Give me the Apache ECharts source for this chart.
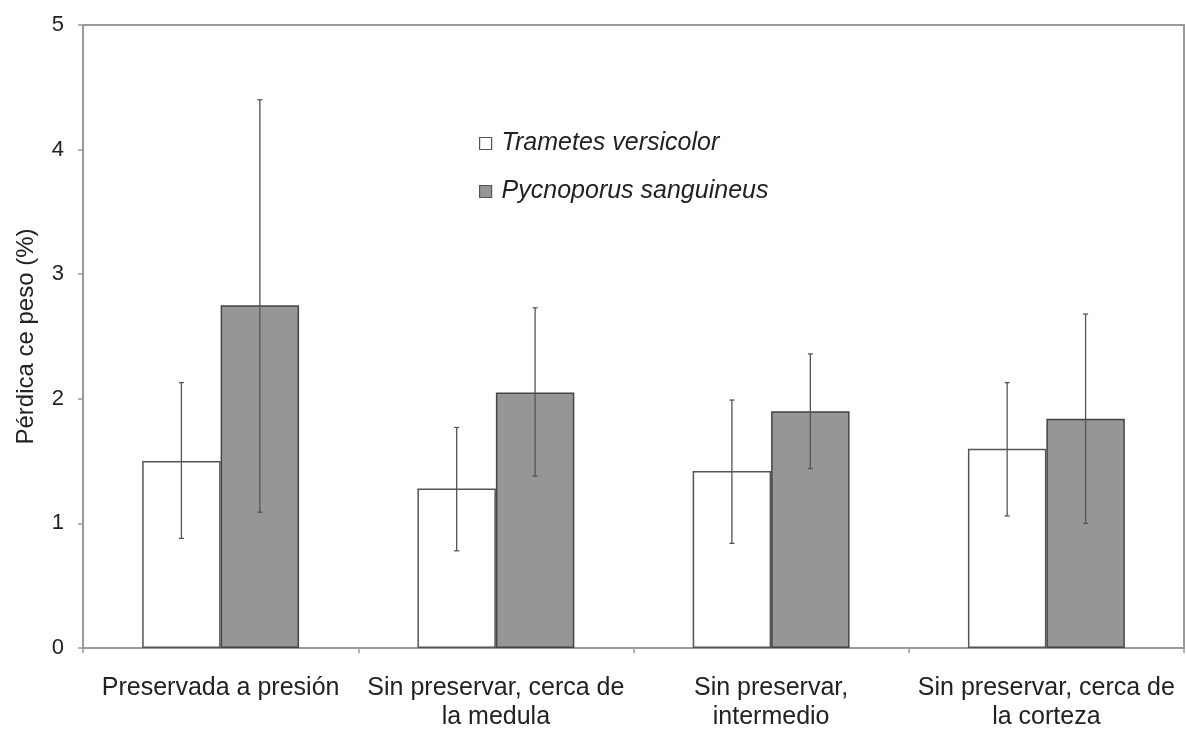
<!DOCTYPE html>
<html>
<head>
<meta charset="utf-8">
<script src="https://cdn.jsdelivr.net/npm/echarts@6/dist/echarts.min.js"></script>
<style>
  html, body { margin: 0; padding: 0; background: #fff; }
  #chart { width: 1186px; height: 734px; }
</style>
</head>
<body>
<div id="chart"></div>
<script>
// Wood treatment categories
const categories = [
  'Preservada a presión',
  'Sin preservar, cerca de\nla medula',
  'Sin preservar,\nintermedio',
  'Sin preservar, cerca de\nla corteza'
];
const seriesNames = ['Trametes versicolor', 'Pycnoporus sanguineus'];

// Mean weight loss (%)
const trametesMean = [1.50, 1.28, 1.42, 1.60];
const pycnoporusMean = [2.75, 2.05, 1.90, 1.84];

// Error bar extents (low, high)
const trametesLow  = [0.88, 0.78, 0.84, 1.06];
const trametesHigh = [2.13, 1.77, 1.99, 2.13];
const pycnoporusLow  = [1.09, 1.38, 1.44, 1.00];
const pycnoporusHigh = [4.40, 2.73, 2.36, 2.68];

const yTicks = [0, 1, 2, 3, 4, 5];

const FONT = 'Liberation Sans, Arial, sans-serif';
const CAT_GAP = 0.43;           // share of category left empty
const BAR_SHARE = (1 - CAT_GAP) / 2;

function errorSeries(low, high, side) {
  const data = low.map((lo, i) => [i, lo, high[i]]);
  return {
    type: 'custom',
    silent: true,
    z: 5,
    data: data,
    encode: { x: 0, y: [1, 2] },
    renderItem: function (params, api) {
      const i = api.value(0);
      const catW = api.size([1, 0])[0];
      const barW = catW * BAR_SHARE;
      const pLo = api.coord([i, api.value(1)]);
      const pHi = api.coord([i, api.value(2)]);
      const x = pLo[0] + side * barW / 2;
      const cap = 2.5;
      const style = { stroke: '#555', lineWidth: 1.3 };
      return {
        type: 'group',
        children: [
          { type: 'line', shape: { x1: x, y1: pLo[1], x2: x, y2: pHi[1] }, style },
          { type: 'line', shape: { x1: x - cap, y1: pLo[1], x2: x + cap, y2: pLo[1] }, style },
          { type: 'line', shape: { x1: x - cap, y1: pHi[1], x2: x + cap, y2: pHi[1] }, style }
        ]
      };
    }
  };
}

const chart = echarts.init(document.getElementById('chart'), null, { renderer: 'canvas' });

chart.setOption({
  animation: false,
  backgroundColor: '#fff',
  textStyle: { fontFamily: FONT, color: '#222' },
  grid: {
    left: 83, right: 2, top: 25, bottom: 86,
    show: true, borderColor: '#9a9a9a', borderWidth: 2, backgroundColor: 'transparent'
  },
  legend: {
    orient: 'vertical',
    left: 474, top: 126,
    itemWidth: 12, itemHeight: 12, itemGap: 23,
    icon: 'rect',
    textStyle: { fontSize: 25, fontStyle: 'italic', color: '#222', fontFamily: FONT, padding: [0, 0, 0, 5] },
    data: [
      { name: seriesNames[0], itemStyle: { color: '#fff', borderColor: '#555', borderWidth: 1.2 } },
      { name: seriesNames[1], itemStyle: { color: '#969696', borderColor: '#555', borderWidth: 1.2 } }
    ]
  },
  xAxis: {
    type: 'category',
    data: categories,
    axisLine: { lineStyle: { color: '#9a9a9a', width: 2 } },
    axisTick: { show: true, length: 5, lineStyle: { color: '#9a9a9a', width: 1.5 } },
    axisLabel: {
      interval: 0, margin: 26, fontSize: 25, lineHeight: 29, color: '#222', fontFamily: FONT
    },
    splitLine: { show: false }
  },
  yAxis: {
    type: 'value',
    min: yTicks[0], max: yTicks[yTicks.length - 1], interval: 1,
    name: 'Pérdica ce peso (%)',
    nameLocation: 'middle',
    nameGap: 45,
    nameTextStyle: { fontSize: 24, color: '#222', fontFamily: FONT },
    axisLine: { show: true, lineStyle: { color: '#9a9a9a', width: 2 } },
    axisTick: { show: true, length: 5, lineStyle: { color: '#9a9a9a', width: 1.5 } },
    axisLabel: { fontSize: 22, margin: 19, color: '#222', fontFamily: FONT },
    splitLine: { show: false }
  },
  series: [
    {
      name: seriesNames[0],
      type: 'bar',
      data: trametesMean,
      barGap: '0%',
      barCategoryGap: (CAT_GAP * 100) + '%',
      itemStyle: { color: '#fff', borderColor: '#555', borderWidth: 1.5 }
    },
    {
      name: seriesNames[1],
      type: 'bar',
      data: pycnoporusMean,
      barGap: '0%',
      barCategoryGap: (CAT_GAP * 100) + '%',
      itemStyle: { color: '#969696', borderColor: '#444', borderWidth: 1.5 }
    },
    errorSeries(trametesLow, trametesHigh, -1),
    errorSeries(pycnoporusLow, pycnoporusHigh, 1)
  ]
});
</script>
</body>
</html>
